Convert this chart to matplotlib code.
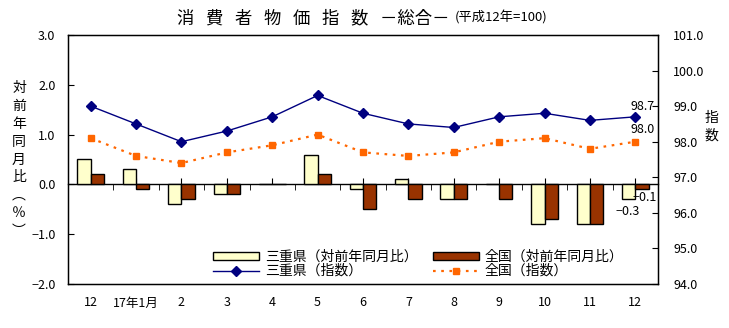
import numpy as np
import matplotlib
matplotlib.use("Agg")
import matplotlib.pyplot as plt

plt.rcParams["font.family"] = ["Noto Sans CJK JP", "DejaVu Sans"]

months = ["12", "17年1月", "2", "3", "4", "5", "6", "7", "8", "9", "10", "11", "12"]
mie_yoy = [0.5, 0.3, -0.4, -0.2, 0.0, 0.6, -0.1, 0.1, -0.3, 0.0, -0.8, -0.8, -0.3]
zen_yoy = [0.2, -0.1, -0.3, -0.2, 0.0, 0.2, -0.5, -0.3, -0.3, -0.3, -0.7, -0.8, -0.1]
mie_idx = [99.0, 98.5, 98.0, 98.3, 98.7, 99.3, 98.8, 98.5, 98.4, 98.7, 98.8, 98.6, 98.7]
zen_idx = [98.1, 97.6, 97.4, 97.7, 97.9, 98.2, 97.7, 97.6, 97.7, 98.0, 98.1, 97.8, 98.0]

x = np.arange(len(months))
w = 0.293

fig = plt.figure(figsize=(7.29, 3.28), dpi=100)
ax = fig.add_axes([68 / 729, 1 - 284 / 328, 590 / 729, 249 / 328])

b1 = ax.bar(x - w / 2, mie_yoy, w, color="#FFFFCC", edgecolor="black", linewidth=1,
            label="三重県（対前年同月比）")
b2 = ax.bar(x + w / 2, zen_yoy, w, color="#993300", edgecolor="black", linewidth=1,
            label="全国（対前年同月比）")
ax.set_xlim(-0.5, len(months) - 0.5)
ax.set_ylim(-2, 3)
ax.set_yticks(np.arange(-2, 3.1, 1))
ax.set_yticklabels([f"{v:.1f}".replace("-", "−") for v in np.arange(-2, 3.1, 1)])
ax.tick_params(axis="y", direction="in", length=4, pad=9, labelsize=9)
ax.set_xticks(x)
ax.set_xticklabels(months)
ax.tick_params(axis="x", length=0, pad=9, labelsize=9)
for s in ax.spines.values():
    s.set_linewidth(1)

# zero line with its own ticks
sec = ax.secondary_xaxis(0.4)
sec.set_xticks(x)
sec.set_xticklabels([])
sec.set_xticks(x[:-1] + 0.5, minor=True)
sec.tick_params(which="major", direction="in", length=4)
sec.tick_params(which="minor", direction="out", length=4)
sec.spines["bottom"].set_linewidth(1)

ax2 = ax.twinx()
l1, = ax2.plot(x, mie_idx, color="#000080", lw=1, marker="D", markersize=5.5,
               label="三重県（指数）")
l2, = ax2.plot(x, zen_idx, color="#FF6600", lw=1.6, linestyle=(0, (1.2, 2.5)),
               marker="s", markersize=5, label="全国（指数）")
ax2.set_ylim(94, 101)
ax2.set_yticks(np.arange(94, 101.1, 1))
ax2.set_yticklabels([f"{v:.1f}" for v in np.arange(94, 101.1, 1)])
ax2.tick_params(axis="y", direction="in", length=4, pad=11, labelsize=9)

ax2.annotate(f"{mie_idx[-1]:.1f}", (x[-1], mie_idx[-1]), xytext=(5, 3),
             textcoords="offset points", ha="center", va="bottom", fontsize=9)
ax2.annotate(f"{zen_idx[-1]:.1f}", (x[-1], zen_idx[-1]), xytext=(5, 4),
             textcoords="offset points", ha="center", va="bottom", fontsize=9)
ax.annotate(f"{mie_yoy[-1]:.1f}".replace("-", "−"), (x[-1] - w / 2, mie_yoy[-1]),
            xytext=(-1, -4), textcoords="offset points", ha="center", va="top", fontsize=9)
ax.annotate(f"{zen_yoy[-1]:.1f}".replace("-", "−"), (x[-1] + w / 2, zen_yoy[-1]),
            xytext=(-7, -1), textcoords="offset points", ha="left", va="top", fontsize=9)

leg = ax2.legend([b1, l1, b2, l2], [b1.get_label(), l1.get_label(), b2.get_label(), l2.get_label()],
                 ncol=2, frameon=False, fontsize=10, loc="lower left",
                 bbox_to_anchor=(0.23, -0.015), borderpad=0.2, handlelength=3.3,
                 handleheight=0.5, handletextpad=0.4, columnspacing=1.1, labelspacing=0.02)

ax.text(-0.083, 0.5, "\n".join("対前年同月比︵％︶"), transform=ax.transAxes,
        ha="center", va="center", fontsize=10, linespacing=1.35)
ax2.text(1.09, 0.63, "指\n数", transform=ax2.transAxes,
         ha="center", va="center", fontsize=10, linespacing=1.3)

t = fig.text(177 / 729, 1 - 18 / 328, "消   費   者   物   価   指   数   －総合－",
             ha="left", va="center", fontsize=12.5)
fig.text(455 / 729, 1 - 18 / 328, "(平成12年=100)", ha="left", va="center", fontsize=9.5)

fig.savefig("out.png", dpi=100)
